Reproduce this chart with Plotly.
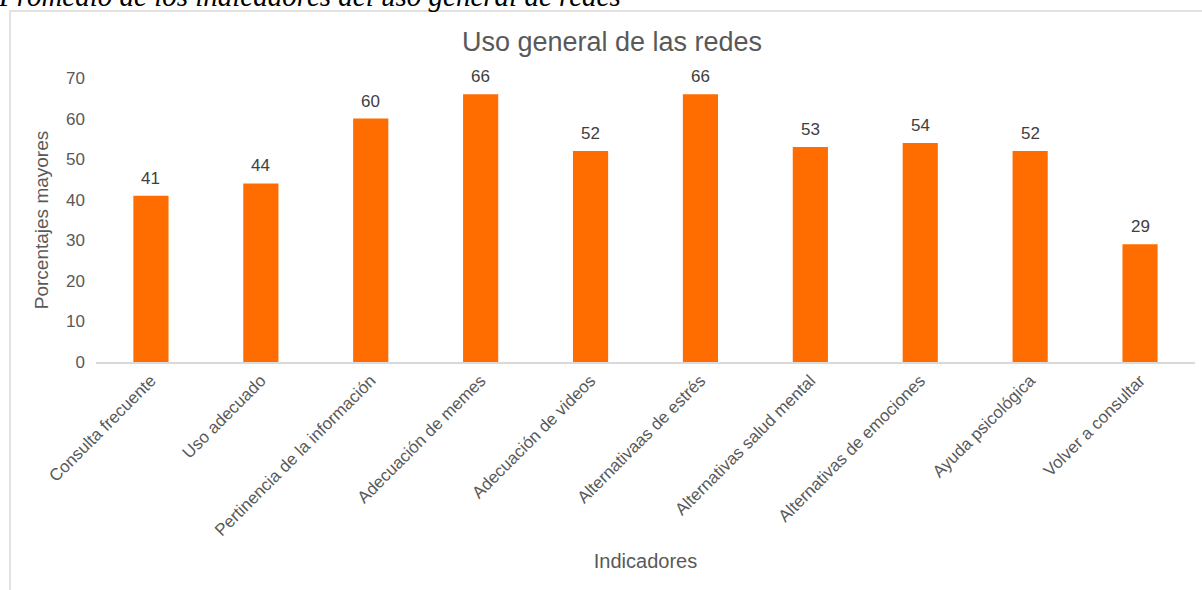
import plotly.graph_objects as go

# Indicator categories and their percentages
indicadores = [
    "Consulta frecuente",
    "Uso adecuado",
    "Pertinencia de la información",
    "Adecuación de memes",
    "Adecuación de videos",
    "Alternativaas de estrés",
    "Alternativas salud mental",
    "Alternativas de emociones",
    "Ayuda psicológica",
    "Volver a consultar",
]
porcentajes = [41, 44, 60, 66, 52, 66, 53, 54, 52, 29]

y_ticks = [0, 10, 20, 30, 40, 50, 60, 70]

GRAY = "#595959"
ORANGE = "#FF6D00"
FONT = "Liberation Sans, Arial, sans-serif"

W, H = 1202, 590
L, R, T, B = 96, 7, 78, 228
pw, ph = W - L - R, H - T - B


def px_x(x):
    return (x - L) / pw


def px_y(y):
    return (H - B - y) / ph


fig = go.Figure(
    go.Bar(
        x=indicadores,
        y=porcentajes,
        marker=dict(color=ORANGE, line=dict(width=0)),
        cliponaxis=False,
    )
)

# value labels sitting just above each bar
value_labels = [
    dict(
        x=cat,
        y=val,
        xref="x",
        yref="y",
        text=str(val),
        showarrow=False,
        yanchor="bottom",
        yshift=6,
        font=dict(family=FONT, size=17, color="#404040"),
    )
    for cat, val in zip(indicadores, porcentajes)
]

fig.update_layout(
    width=W,
    height=H,
    margin=dict(l=L, r=R, t=T, b=B),
    paper_bgcolor="white",
    plot_bgcolor="white",
    showlegend=False,
    bargap=0.68,
    font=dict(family=FONT, color=GRAY),
    title=dict(
        text="Uso general de las redes",
        x=612 / W,
        xref="container",
        xanchor="center",
        y=1 - 42 / H,
        yanchor="middle",
        font=dict(size=27, color=GRAY, family=FONT),
    ),
    xaxis=dict(
        tickangle=-45,
        tickfont=dict(size=17, color=GRAY),
        showline=True,
        linecolor="#D9D9D9",
        linewidth=2,
        ticks="",
        showgrid=False,
        title=dict(text="Indicadores", font=dict(size=20, color=GRAY), standoff=15),
    ),
    yaxis=dict(
        range=[0, 70],
        tickvals=y_ticks,
        tickfont=dict(size=17, color=GRAY),
        showgrid=False,
        zeroline=False,
        showline=False,
        ticks="",
        ticklabelstandoff=10,
        title=dict(text="Porcentajes mayores", font=dict(size=19, color=GRAY), standoff=12),
    ),
    shapes=[
        dict(
            type="rect",
            xref="paper",
            yref="paper",
            x0=px_x(10),
            x1=px_x(1215),
            y0=px_y(11),
            y1=px_y(620),
            line=dict(color="#D9D9D9", width=1.5),
            fillcolor="rgba(0,0,0,0)",
            layer="below",
        )
    ],
    annotations=value_labels
    + [
        dict(
            text="Promedio de los indicadores del uso general de redes",
            xref="paper",
            yref="paper",
            x=px_x(-4),
            y=px_y(14),
            xanchor="left",
            yanchor="bottom",
            showarrow=False,
            font=dict(family="Liberation Serif, Times New Roman, serif", size=29, color="black", style="italic"),
        )
    ],
)

fig.write_html("out.html")
